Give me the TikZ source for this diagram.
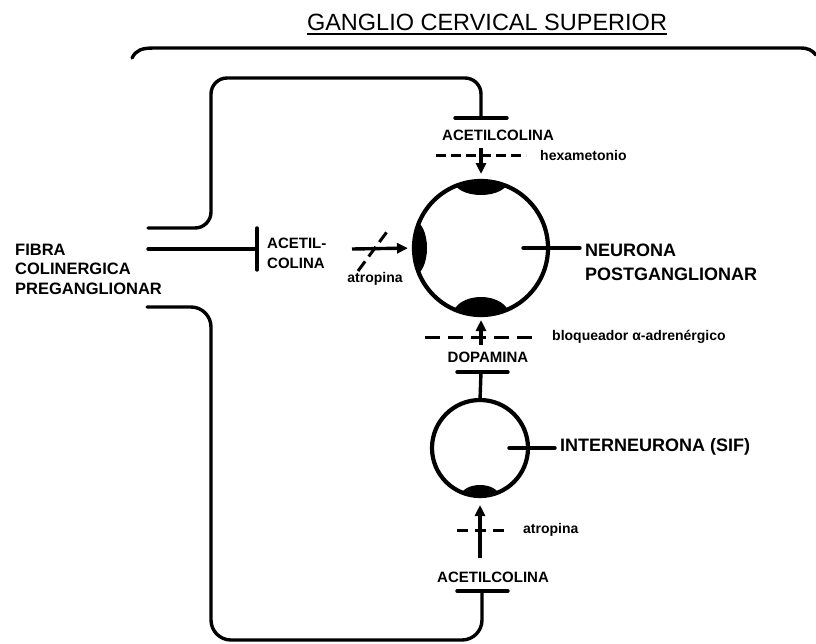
\documentclass[tikz,border=0pt]{standalone}
\usepackage{fontspec}
\setmainfont{Liberation Sans}
\usetikzlibrary{arrows.meta}
\tikzset{
  fibra/.style={line width=3.4pt, line cap=round},
  cuerpo/.style={circle, draw, line width=4.2pt, inner sep=0pt, outer sep=0pt},
  flecha/.style={fibra, line cap=butt, -{Triangle[length=11pt,width=10pt]}},
  bloqueo/.style={line width=3pt},
  rotulo/.style={font=\fontsize{15}{20}\selectfont\bfseries, inner sep=0pt},
  grande/.style={font=\fontsize{18}{24}\selectfont\bfseries, inner sep=0pt, align=left, anchor=west},
  farmaco/.style={font=\fontsize{14}{16}\selectfont\bfseries, inner sep=0pt}
}

\begin{document}
\begin{tikzpicture}[x=1pt, y=-1pt]
  \useasboundingbox (0,0) rectangle (816,643);

  % Title and outline of the ganglion
  \node[font=\fontsize{23.5}{28}\selectfont, inner sep=0pt] (titulo) at (487,22.5) {GANGLIO CERVICAL SUPERIOR};
  \draw[line width=2pt] ([yshift=-2.5pt]titulo.south west) -- ([yshift=-2.5pt]titulo.south east);
  \draw[fibra] (132,58) .. controls (136,50) and (142,48) .. (154,48) -- (800,48)
    .. controls (808,48) and (812,50) .. (816,55);

  % Cell bodies
  \node[cuerpo, minimum size=134pt] (neurona) at (481,248) {};
  \node[cuerpo, minimum size=96pt] (sif) at (480,448) {};

  % Receptor zones (dark caps)
  \begin{scope}
    \clip (neurona.center) circle (67pt);
    \fill (neurona.north) ellipse (27pt and 14pt);
    \fill (neurona.west) ellipse (13pt and 27pt);
    \fill (neurona.south) ellipse (28pt and 18pt);
  \end{scope}
  \begin{scope}
    \clip (sif.center) circle (48pt);
    \fill (sif.south) ellipse (19pt and 11pt);
  \end{scope}

  % Preganglionic fibres and their endings
  \node[grande, font=\fontsize{16.5}{19.5}\selectfont\bfseries] (fibra) at (15,269) {FIBRA\\COLINERGICA\\PREGANGLIONAR};
  \coordinate (f1) at (148,228);
  \coordinate (f2) at (148,249);
  \coordinate (f3) at (147,307);
  \coordinate (c1) at (211,78);
  \coordinate (c3) at (211,640);
  \coordinate (s1) at (481,118);
  \coordinate (s2) at (257,249);
  \coordinate (s3) at (482,591);
  \draw[fibra, rounded corners=16pt] (f1) -| (c1) -| (s1);
  \draw[fibra] (f2) -- (s2);
  \draw[fibra, rounded corners=20pt] (f3) -| (c3) -| (s3);
  \draw[fibra] ([xshift=-26pt]s1) -- ([xshift=26pt]s1);
  \draw[fibra] ([yshift=21pt]s2) -- ([yshift=-21pt]s2);
  \draw[fibra] ([xshift=-25pt]s3) -- ([xshift=26pt]s3);

  % Upper synapse: acetylcholine, hexamethonium
  \node[rotulo] (ach1) at (498,135) {ACETILCOLINA};
  \draw[flecha, shorten <=7pt, shorten >=7pt] (ach1.south -| neurona.center) -- (neurona.north);
  \node[farmaco, anchor=west] (hexa) at (540,155) {hexametonio};
  \coordinate (b1) at (436,155);
  \draw[bloqueo, dash pattern=on 10pt off 5pt] (b1) -- ([xshift=90pt]b1);

  % Left synapse: acetylcholine, atropine
  \node[rotulo, align=left, anchor=west] (ach2) at (267,253) {ACETIL-\\COLINA};
  \coordinate (a2) at (352,249);
  \draw[flecha, shorten >=6pt] (a2) -- (neurona.west);
  \coordinate (x1) at (358,271);
  \draw[bloqueo, dash pattern=on 12pt off 6pt] (x1) -- ([xshift=31pt, yshift=42pt]x1);
  \node[farmaco] (atro1) at (375,279) {atropina};

  % Postganglionic neuron label
  \node[grande] (postg) at (585,262) {NEURONA\\POSTGANGLIONAR};
  \draw[fibra, shorten >=5pt] ([xshift=-25pt]neurona.east) -- (neurona.center -| postg.west);

  % Dopamine from the SIF cell
  \node[rotulo] (dopa) at (488,357) {DOPAMINA};
  \draw[flecha, shorten <=6pt, shorten >=5pt] (dopa.north -| neurona.center) -- (neurona.south);
  \node[farmaco, anchor=west] (bloq) at (552,337) {bloqueador α-adrenérgico};
  \coordinate (b2) at (425,337);
  \draw[bloqueo, dash pattern=on 15pt off 8pt] (b2) -- ([xshift=107pt]b2);
  \coordinate (s4) at (481,372);
  \draw[fibra] ([xshift=-24pt]s4) -- ([xshift=27pt]s4);
  \draw[fibra] (s4) -- (sif.north);

  % SIF interneuron
  \node[grande] (inter) at (560,447) {INTERNEURONA (SIF)};
  \draw[fibra, shorten >=5pt] ([xshift=-19pt]sif.east) -- (sif.center -| inter.west);

  % Lower synapse: acetylcholine, atropine
  \node[rotulo] (ach3) at (493,577) {ACETILCOLINA};
  \draw[flecha, shorten <=14pt, shorten >=9pt] (ach3.north -| sif.center) -- (sif.south);
  \node[farmaco, anchor=west] (atro2) at (523,530) {atropina};
  \coordinate (b3) at (457,530);
  \draw[bloqueo, dash pattern=on 11pt off 7pt] (b3) -- ([xshift=47pt]b3);
\end{tikzpicture}
\end{document}
